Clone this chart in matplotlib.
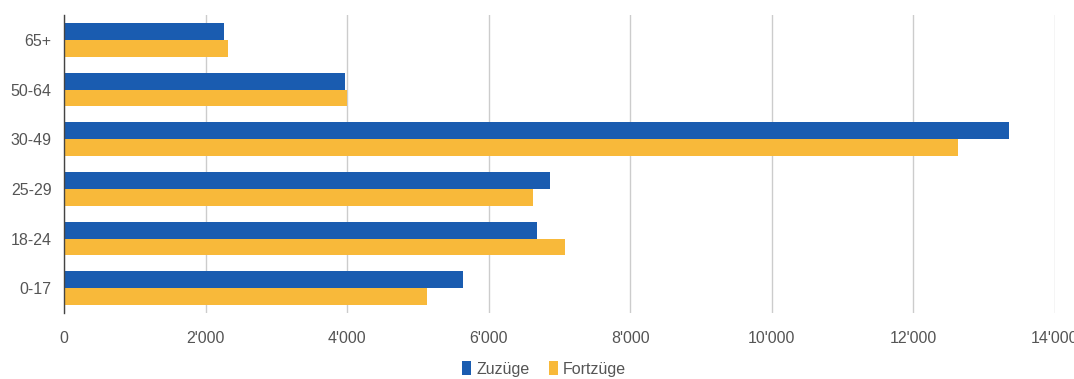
import matplotlib
matplotlib.use("Agg")
import matplotlib.pyplot as plt
import numpy as np
from matplotlib.ticker import FuncFormatter

categories = ["65+", "50-64", "30-49", "25-29", "18-24", "0-17"]
zuzuege = [2265, 3975, 13350, 6865, 6685, 5635]
fortzuege = [2320, 3995, 12635, 6625, 7075, 5125]
xticks = [0, 2000, 4000, 6000, 8000, 10000, 12000, 14000]

blue = "#1a5cb0"
yellow = "#f8b93a"
txt = "#555555"

plt.rcParams['font.family'] = ['Liberation Sans', 'DejaVu Sans']

fig = plt.figure(figsize=(10.74, 3.79), dpi=100)
ax = fig.add_axes([64/1074, 1-313/379, (1055-64)/1074, (313-15)/379])

y = np.arange(len(categories))
h = 0.342
ax.barh(y - h/2, zuzuege, height=h, color=blue, label="Zuzüge", zorder=3)
ax.barh(y + h/2, fortzuege, height=h, color=yellow, label="Fortzüge", zorder=3)

ax.set_ylim(len(categories) - 0.5, -0.5)
ax.set_xlim(0, 14000)
ax.set_yticks(y)
ax.set_yticklabels(categories)
ax.set_xticks(xticks)
ax.xaxis.set_major_formatter(FuncFormatter(lambda v, p: "0" if v == 0 else f"{int(v):,}".replace(",", "'")))

ax.tick_params(axis='both', length=0, colors=txt, labelsize=11.5)
ax.tick_params(axis='y', pad=9)
ax.tick_params(axis='x', pad=13)
ax.grid(axis='x', color="#cccccc", linewidth=1, zorder=0)
for s in ["top", "right", "bottom"]:
    ax.spines[s].set_visible(False)
ax.spines["left"].set_color("#444444")
ax.spines["left"].set_linewidth(1)
ax.spines["left"].set_zorder(4)

leg = fig.legend(loc="center", bbox_to_anchor=(544/1074, 1-369/379), ncol=2, frameon=False,
                 fontsize=11.5, handlelength=0.6, handleheight=0.9, handletextpad=0.3,
                 columnspacing=1.2, labelcolor=txt)

fig.savefig("out.png", dpi=100)
